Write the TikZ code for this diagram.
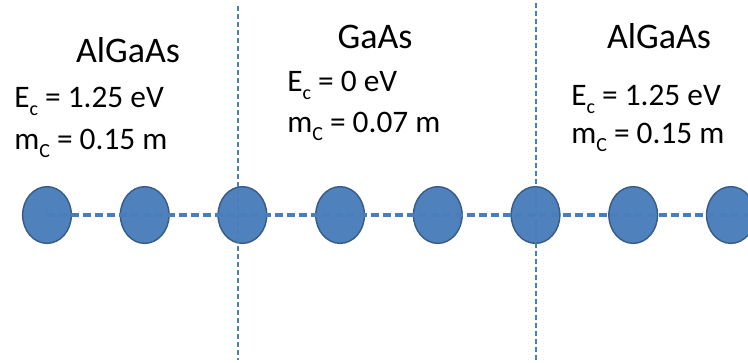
\documentclass[tikz,border=0pt]{standalone}
\usepackage{fontspec}
\setmainfont{Carlito}
\usetikzlibrary{shapes.geometric}
\definecolor{atomblue}{HTML}{4F81BD}
\definecolor{atomedge}{HTML}{385D8A}
\definecolor{lineblue}{HTML}{4A7EBB}
\newcommand{\lowidx}[1]{\raisebox{-0.28em}{\fontsize{15}{15}\selectfont #1}}

\begin{document}
\begin{tikzpicture}[x=0.75pt,y=-0.75pt,
  atom/.style={ellipse,draw=atomedge,line width=1.1pt,fill=atomblue,minimum width=36.5pt,minimum height=42.5pt,inner sep=0pt},
  layer/.style={font=\fontsize{27}{30}\selectfont,anchor=base,inner sep=0pt},
  param/.style={font=\fontsize{23.5}{27}\selectfont,anchor=base west,inner sep=0pt},
  bond/.style={lineblue,line width=2.6pt,dash pattern=on 6pt off 3pt},
  interface/.style={lineblue,line width=1.7pt,dash pattern=on 3.8pt off 2.2pt}]
\useasboundingbox (0,0) rectangle (748,362);
% atoms of the chain
\foreach \i in {1,...,8}
  \node[atom] (a\i) at ({47+97.7*(\i-1)},215) {};
% layer names and band parameters
\node[layer] (ltitle) at (128,62) {AlGaAs};
\node[param] (lec) at (14,107) {E\lowidx{c} = 1.25 eV};
\node[param] (lmc) at (14,149) {m\lowidx{C} = 0.15 m};
\node[layer] (mtitle) at (375,48) {GaAs};
\node[param] (mec) at (287,91) {E\lowidx{c} = 0 eV};
\node[param] (mmc) at (287,132) {m\lowidx{C} = 0.07 m};
\node[layer] (rtitle) at (659,48) {AlGaAs};
\node[param] (rec) at (571,105) {E\lowidx{c} = 1.25 eV};
\node[param] (rmc) at (571,143) {m\lowidx{C} = 0.15 m};
% hoppings and interfaces
\coordinate (chainend) at (748,215);
\coordinate (ltop) at (238,6);  \coordinate (lbot) at (238,360);
\coordinate (rtop) at (536,3);  \coordinate (rbot) at (536,360);
\draw[bond] (a1.center) -- (chainend);
\draw[interface] (ltop) -- (lbot);
\draw[interface] (rtop) -- (rbot);
\end{tikzpicture}
\end{document}
